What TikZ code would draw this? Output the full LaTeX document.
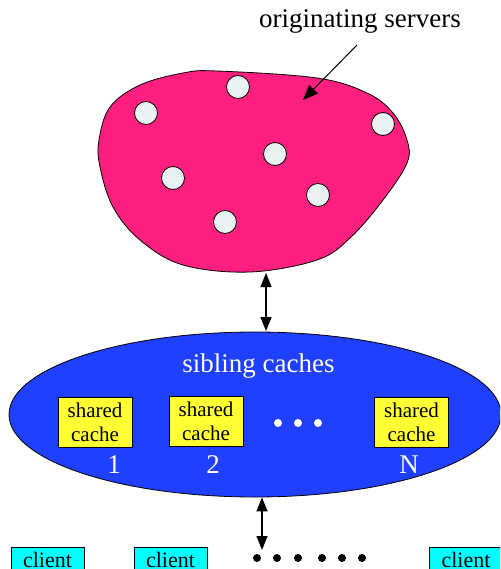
\documentclass[tikz,border=0pt]{standalone}
\usepackage{fontspec}
\setmainfont{Liberation Serif}
\usetikzlibrary{arrows.meta,shapes.geometric}
\definecolor{blobpink}{HTML}{FF1F7F}
\definecolor{sibblue}{HTML}{2040FF}
\definecolor{cacheyellow}{HTML}{FFFF33}
\definecolor{clientcyan}{HTML}{00FFFF}
\definecolor{srvfill}{HTML}{E8F2F2}
\tikzset{
  server/.style={circle, draw=black, fill=srvfill, line width=0.8pt, minimum size=23pt, inner sep=0pt},
  cachebox/.style={draw=black, fill=cacheyellow, line width=1pt, minimum width=74pt, minimum height=50pt, inner sep=0pt, align=center, font=\fontsize{21}{24}\selectfont},
  clientbox/.style={draw=black, fill=clientcyan, line width=1pt, minimum width=73pt, inner xsep=0pt, inner ysep=4pt, text height=16pt, text depth=30pt, font=\fontsize{22}{26}\selectfont},
  bigtext/.style={font=\fontsize{27}{32}\selectfont, inner sep=0pt},
  wdot/.style={circle, fill=white, minimum size=8pt, inner sep=0pt},
  bdot/.style={circle, fill=black, minimum size=8pt, inner sep=0pt},
  biarrow/.style={line width=1.2pt, {Triangle[length=14pt,width=11pt]}-{Triangle[length=14pt,width=11pt]}},
  onearrow/.style={line width=1pt, -{Triangle[length=15pt,width=12pt]}}
}
\begin{document}
\begin{tikzpicture}[x=1pt,y=-1pt]
\useasboundingbox (0,0) rectangle (500,569);
\begin{scope}
\clip (0,0) rectangle (500,569);
% blob
\draw[fill=blobpink, line width=0.8pt] plot[smooth cycle, tension=0.6] coordinates {
 (217,71) (317,78) (367,93) (393,113) (407,140) (407,163) (383,200) (350,238) (317,260)
 (250,272) (183,265) (140,240) (113,207) (100,167) (99,140) (110,107) (140,85) (183,73)};
\coordinate (blobbot) at (266,273);
% servers
\node[server] (s1) at (238,87) {};
\node[server] (s2) at (146,113) {};
\node[server] (s3) at (383,124) {};
\node[server] (s4) at (275,154) {};
\node[server] (s5) at (173,178) {};
\node[server] (s6) at (318,195) {};
\node[server] (s7) at (225,222) {};
% label
\node[bigtext, anchor=base] (orig) at (360,28) {originating servers};
\coordinate (origtail) at (357,45);
\coordinate (origtip) at (303,100);
\draw[onearrow] (origtail) -- (origtip);
% ellipse
\node[ellipse, draw=black, fill=sibblue, line width=0.8pt, minimum width=492pt, minimum height=165pt, inner sep=0pt] (sib) at (255,414.5) {};
\node[bigtext, anchor=base, text=white] (sibtext) at (258.5,372) {sibling caches};
\node[cachebox] (c1) at (95,422) {shared\\cache};
\node[cachebox] (c2) at (206,421) {shared\\cache};
\node[cachebox] (cN) at (411.5,422) {shared\\cache};
\node[bigtext, anchor=base, text=white] (n1) at (114,473) {1};
\node[bigtext, anchor=base, text=white] (n2) at (213,473) {2};
\node[bigtext, anchor=base, text=white] (nN) at (409,473) {N};
\node[wdot] (w1) at (278,423) {};
\node[wdot] (w2) at (298,423) {};
\node[wdot] (w3) at (318,423) {};
% arrows
\draw[biarrow] (blobbot) -- (266,331);
\coordinate (lowtip) at (262,550);
\draw[biarrow] (sib.south -| lowtip) -- (lowtip);
% clients
\node[clientbox, anchor=base] (cl1) at (47.5,567) {client};
\node[clientbox, anchor=base] (cl2) at (170.5,567) {client};
\node[clientbox, anchor=base] (cl3) at (466,567) {client};
\node[bdot] (d1) at (257,558) {};
\node[bdot] (d2) at (277,558) {};
\node[bdot] (d3) at (298,558) {};
\node[bdot] (d4) at (322,558) {};
\node[bdot] (d5) at (342,558) {};
\node[bdot] (d6) at (362,558) {};
\end{scope}
\end{tikzpicture}
\end{document}
